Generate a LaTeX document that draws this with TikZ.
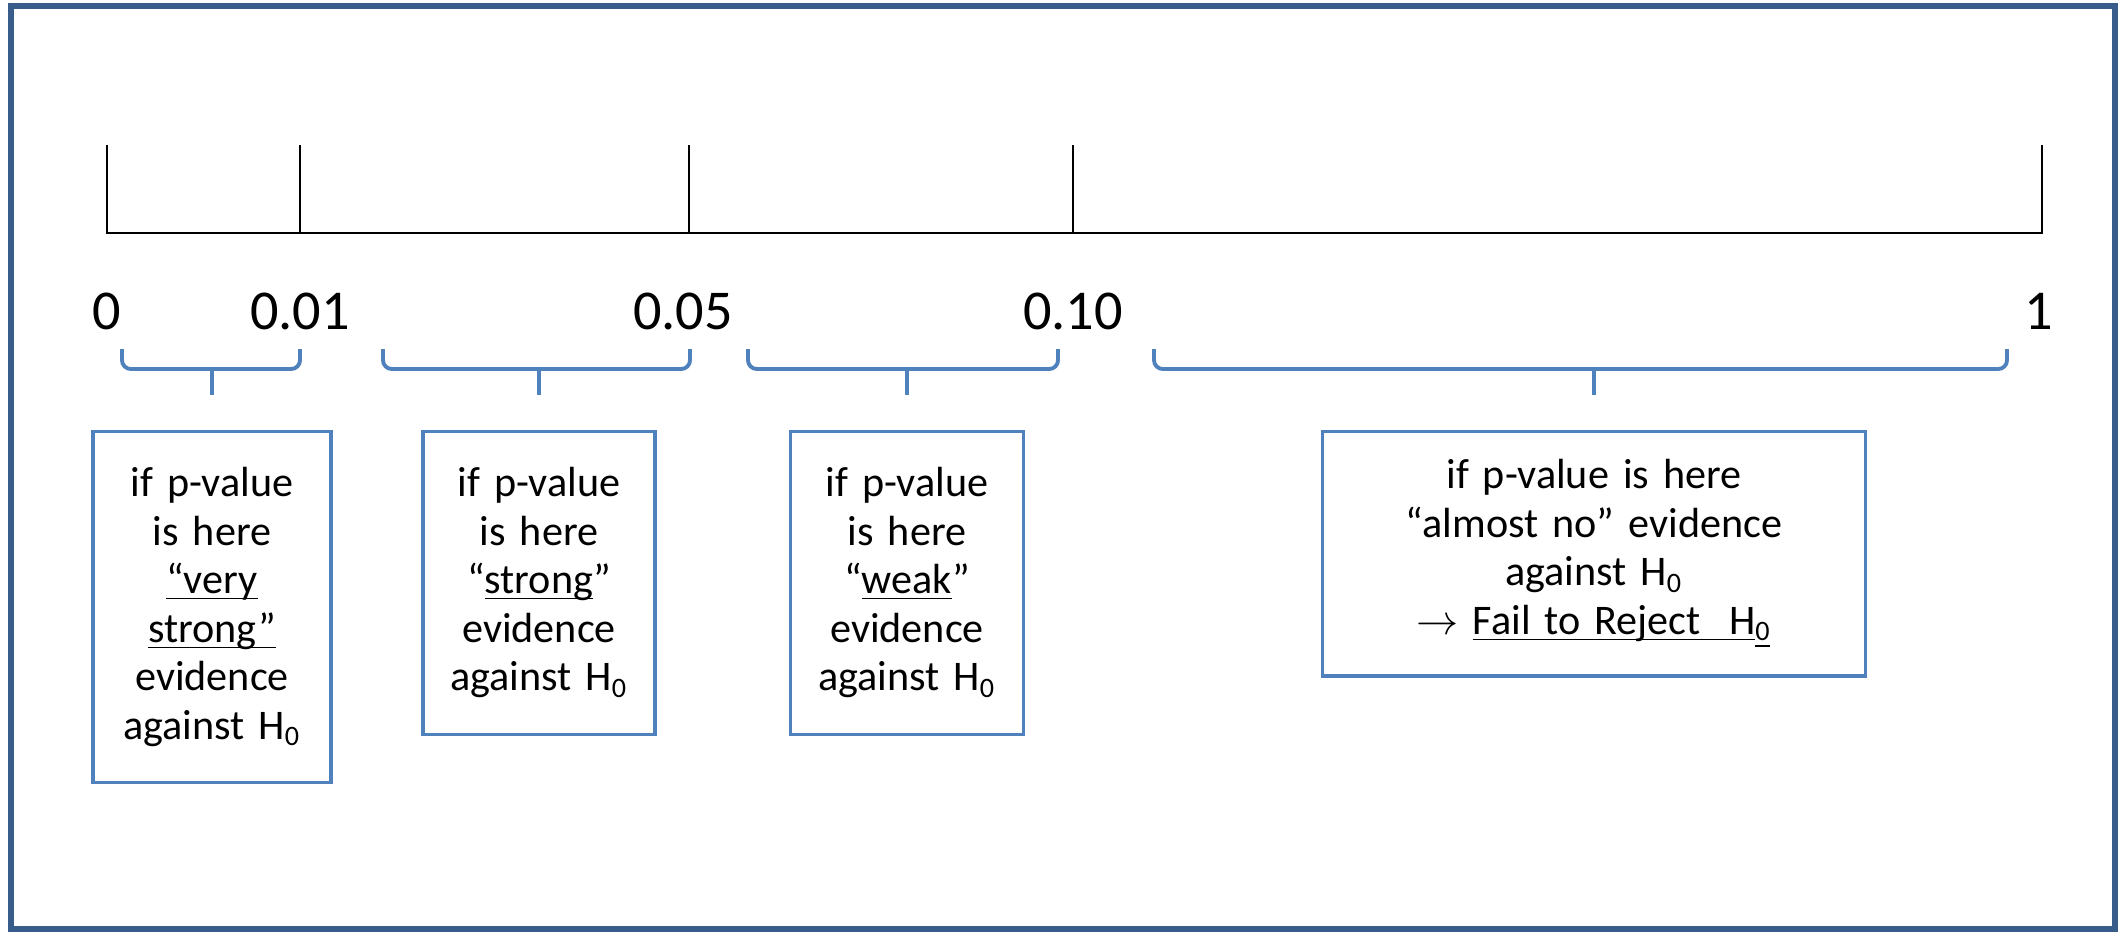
\documentclass[tikz,border=0pt]{standalone}
\usepackage{fontspec}
\setmainfont{Carlito}
\usetikzlibrary{positioning}
\definecolor{framecol}{RGB}{56,93,138}
\definecolor{bracecol}{RGB}{79,129,189}
\newcommand{\ulword}[1]{\underline{\smash{#1}}}

\begin{document}
\begin{tikzpicture}
  \tikzstyle{axline}=[line width=0.8pt,black]
  \tikzstyle{lab}=[inner sep=0pt,font=\fontsize{16}{19}\selectfont]
  \tikzstyle{pbrace}=[draw=bracecol,line width=1.1pt,rounded corners=2.5pt]
  \tikzstyle{pbox}=[draw=bracecol,line width=0.9pt,align=center,inner xsep=0.1cm,inner ysep=0.36cm,font=\fontsize{12}{13.8}\selectfont]
  \useasboundingbox (0,0) rectangle (21.22,9.34);
  \draw[framecol,line width=1.7pt] (0.11,0.05) rectangle (21.15,9.28);
  % number line
  \draw[axline] (1.07,7.89) -- (1.07,7.01) -- (20.42,7.01) -- (20.42,7.89);
  \foreach \x in {3.00,6.89,10.73}
    \draw[axline] (\x,7.01) -- (\x,7.89);
  \node[lab] (p0) at (1.07,6.23) {0};
  \node[lab] (p01) at (3.00,6.23) {0.01};
  \node[lab] (p05) at (6.83,6.23) {0.05};
  \node[lab] (p10) at (10.73,6.23) {0.10};
  \node[lab] (p1) at (20.39,6.23) {1};
  % braces under the intervals
  \foreach \a/\b/\c/\n in {1.22/3.00/2.12/t1,3.83/6.90/5.39/t2,7.48/10.58/9.07/t3,11.54/20.07/15.94/t4}{
    \draw[pbrace] (\a,5.85) |- (\b,5.65) -- (\b,5.85);
    \draw[pbrace] (\c,5.65) -- (\c,5.39) coordinate (\n);
  }
  % evidence boxes
  \node[pbox,text width=2.18cm,below=0.35cm of t1] (vstrong) {if p-value\\is here\\\ulword{“very}\\\ulword{strong”}\\evidence\\against H\textsubscript{0}};
  \node[pbox,text width=2.12cm,below=0.35cm of t2] (strong) {if p-value\\is here\\“\ulword{strong}”\\evidence\\against H\textsubscript{0}};
  \node[pbox,text width=2.13cm,below=0.35cm of t3] (weak) {if p-value\\is here\\“\ulword{weak}”\\evidence\\against H\textsubscript{0}};
  \node[pbox,text width=5.23cm,inner ysep=0.28cm,below=0.35cm of t4] (nores) {if p-value is here\\“almost no” evidence\\against H\textsubscript{0}\\$\rightarrow$ \ulword{Fail to Reject\ \ H}\textsubscript{\underline{0}}};
\end{tikzpicture}
\end{document}
